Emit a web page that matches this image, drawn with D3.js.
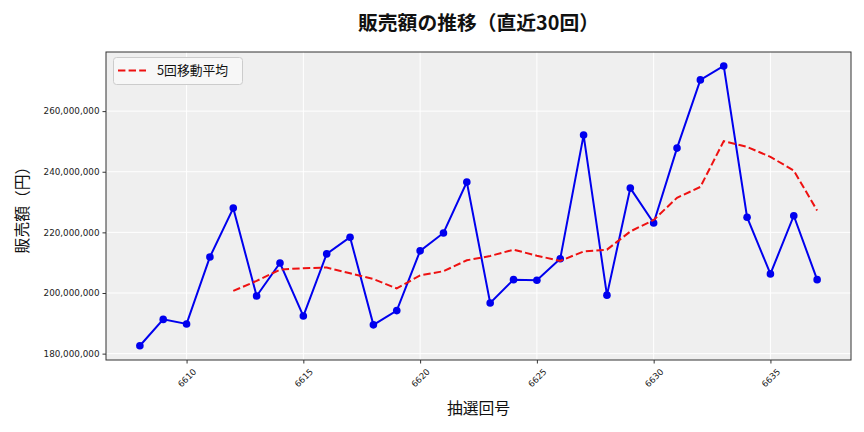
<!DOCTYPE html>
<html><head><meta charset="utf-8">
<script src="https://cdn.jsdelivr.net/npm/d3@7"></script>
<style>
html,body{margin:0;padding:0;background:#fff;}
text{font-family:"Noto Sans CJK JP","Noto Sans",sans-serif;}
</style></head>
<body><svg id="c" width="864" height="432"></svg>
<script>
const rounds = d3.range(6608, 6638);
const sales = [182.6,191.3,189.8,211.9,228.0,199.0,209.9,192.4,212.9,218.4,189.5,194.2,213.9,219.8,236.6,196.7,204.4,204.2,211.3,252.1,199.3,234.6,223.1,247.8,270.3,274.9,225.0,206.3,225.5,204.4].map(v=>v*1e6);
const maRounds = d3.range(6612, 6638);
const ma5 = [200.7,204.0,207.7,208.2,208.4,206.5,204.6,201.5,205.8,207.2,210.8,212.2,214.3,212.3,210.6,213.7,214.3,220.3,224.1,231.4,235.0,250.1,248.2,244.9,240.4,227.2].map(v=>v*1e6);
const xTicks = [6610,6615,6620,6625,6630,6635];
const yTicks = [180e6,200e6,220e6,240e6,260e6];
const title = "販売額の推移（直近30回）";
const xLabel = "抽選回号";
const yLabel = "販売額（円）";
const legendLabel = "5回移動平均";

const svg = d3.select("#c");
const L=106, R=851, T=52, B=360;
const x = d3.scaleLinear().domain([6606.55, 6638.45]).range([L,R]);
const y = d3.scaleLinear().domain([177.9e6, 279.5e6]).range([B,T]);

svg.append("rect").attr("x",L).attr("y",T).attr("width",R-L).attr("height",B-T).attr("fill","#efefef");
// grid
svg.append("g").selectAll("line").data(xTicks).join("line")
  .attr("x1",d=>x(d)).attr("x2",d=>x(d)).attr("y1",T).attr("y2",B)
  .attr("stroke","#fff").attr("stroke-width",1);
svg.append("g").selectAll("line").data(yTicks).join("line")
  .attr("y1",d=>y(d)).attr("y2",d=>y(d)).attr("x1",L).attr("x2",R)
  .attr("stroke","#fff").attr("stroke-width",1);

// axes
const fmt = d3.format(",");
const ya = svg.append("g").attr("transform",`translate(${L},0)`)
  .call(d3.axisLeft(y).tickValues(yTicks).tickFormat(d=>fmt(d)).tickSize(3.5).tickPadding(3));
ya.select(".domain").remove();
ya.selectAll("text").attr("fill","#222").style("font-family","'DejaVu Sans',sans-serif").attr("font-size",8.8);
ya.selectAll("line").attr("stroke","#333");
const xa = svg.append("g").attr("transform",`translate(0,${B})`)
  .call(d3.axisBottom(x).tickValues(xTicks).tickFormat(d=>d).tickSize(3.5));
xa.select(".domain").remove();
xa.selectAll("line").attr("stroke","#333");
xa.selectAll("text").attr("font-size",8.6).attr("fill","#222").style("font-family","'DejaVu Sans',sans-serif")
  .attr("text-anchor","middle").attr("y",0).attr("dy",0)
  .attr("transform","translate(0,18) rotate(-45)").attr("dominant-baseline","central");

svg.append("rect").attr("x",L).attr("y",T).attr("width",R-L).attr("height",B-T)
  .attr("fill","none").attr("stroke","#333").attr("stroke-width",1);

// lines
const line = d3.line().x(d=>x(d[0])).y(d=>y(d[1]));
svg.append("defs").append("clipPath").attr("id","cl").append("rect")
  .attr("x",L).attr("y",T).attr("width",R-L).attr("height",B-T);
const g = svg.append("g").attr("clip-path","url(#cl)");
g.append("path").datum(rounds.map((r,i)=>[r,sales[i]])).attr("d",line)
  .attr("fill","none").attr("stroke","#0000ee").attr("stroke-width",2);
g.selectAll("circle").data(rounds.map((r,i)=>[r,sales[i]])).join("circle")
  .attr("cx",d=>x(d[0])).attr("cy",d=>y(d[1])).attr("r",3.8).attr("fill","#0000ee");
g.append("path").datum(maRounds.map((r,i)=>[r,ma5[i]])).attr("d",line)
  .attr("fill","none").attr("stroke","#ee1111").attr("stroke-width",2).attr("stroke-dasharray","7.4,3.2");

// legend
svg.append("rect").attr("x",113.5).attr("y",57.5).attr("width",129).attr("height",27).attr("rx",3)
  .attr("fill","#f7f7f7").attr("stroke","#ccc").attr("stroke-width",1);
svg.append("line").attr("x1",118).attr("x2",146).attr("y1",70.5).attr("y2",70.5)
  .attr("stroke","#ee1111").attr("stroke-width",2).attr("stroke-dasharray","7.4,3.2");
svg.append("text").attr("x",157).attr("y",75).attr("font-size",12.8).attr("fill","#111").text(legendLabel);

// labels
svg.append("text").attr("x",(L+R)/2).attr("y",29.5).attr("text-anchor","middle")
  .attr("font-size",19.8).attr("font-weight","bold").attr("fill","#111").text(title);
svg.append("text").attr("x",(L+R)/2).attr("y",414).attr("text-anchor","middle")
  .attr("font-size",15.8).attr("fill","#111").text(xLabel);
svg.append("text").attr("transform",`translate(28,${(T+B)/2}) rotate(-90)`).attr("text-anchor","middle")
  .attr("font-size",15.8).attr("fill","#111").text(yLabel);
</script></body></html>
